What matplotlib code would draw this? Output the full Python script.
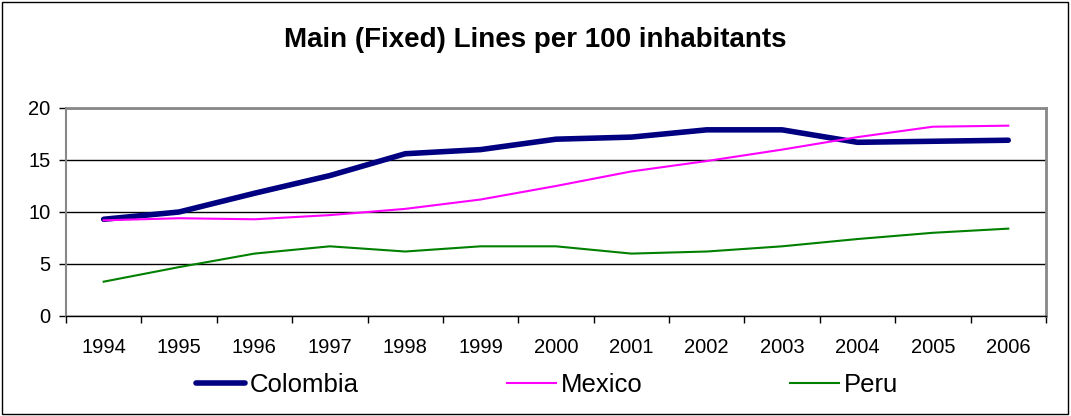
import matplotlib.pyplot as plt
import numpy as np
from matplotlib.patches import Rectangle

plt.rcParams['font.family'] = ['Liberation Sans', 'DejaVu Sans']

years = ['1994', '1995', '1996', '1997', '1998', '1999', '2000',
         '2001', '2002', '2003', '2004', '2005', '2006']
colombia = [9.3, 10.0, 11.8, 13.5, 15.6, 16.0, 17.0, 17.2, 17.9, 17.9, 16.7, 16.8, 16.9]
mexico = [9.2, 9.4, 9.3, 9.7, 10.3, 11.2, 12.5, 13.9, 14.9, 16.0, 17.2, 18.2, 18.3]
peru = [3.3, 4.7, 6.0, 6.7, 6.2, 6.7, 6.7, 6.0, 6.2, 6.7, 7.4, 8.0, 8.4]

fig = plt.figure(figsize=(10.71, 4.16), dpi=100)
ax = fig.add_axes([0.0616, 0.2404, 0.915, 0.5])

x = np.arange(len(years))
ax.plot(x, colombia, color='#000080', lw=4, solid_capstyle='round', label='Colombia', zorder=3)
ax.plot(x, mexico, color='#ff00ff', lw=1.5, label='Mexico', zorder=3)
ax.plot(x, peru, color='#008000', lw=1.5, label='Peru', zorder=3)

ax.set_xlim(-0.5, len(years) - 0.5)
ax.set_ylim(0, 20)
ax.set_yticks([0, 5, 10, 15, 20])
ax.yaxis.grid(True, color='black', lw=1)
ax.set_axisbelow(True)

# category ticks between the years, labels centred
ax.set_xticks(np.arange(-0.5, len(years), 1.0))
ax.set_xticklabels([])
ax.set_xticks(x, minor=True)
ax.set_xticklabels(years, minor=True)
ax.tick_params(axis='x', which='minor', length=0, pad=16, labelsize=14.5)
ax.tick_params(axis='x', which='major', length=5, width=1, direction='out')
ax.tick_params(axis='y', length=5, width=1, direction='out', labelsize=14.5, pad=6)

for s in ['top', 'right']:
    ax.spines[s].set_color('#888888')
    ax.spines[s].set_linewidth(2)
ax.spines['left'].set_color('#888888')
ax.spines['left'].set_linewidth(1.5)
ax.spines['bottom'].set_color('black')
ax.spines['bottom'].set_linewidth(1)

fig.text(0.5, 0.905, 'Main (Fixed) Lines per 100 inhabitants',
         ha='center', va='center', fontsize=20, fontweight='bold')

fig.legend(loc='center', bbox_to_anchor=(0.511, 0.075), ncol=3, frameon=False,
           fontsize=18.5, handlelength=1.9, handletextpad=0.2, columnspacing=5.75)

fig.patches.append(Rectangle((0.002, 0.004), 0.995, 0.99, transform=fig.transFigure,
                             fill=False, edgecolor='black', lw=1))

fig.savefig('out.png', dpi=100)
